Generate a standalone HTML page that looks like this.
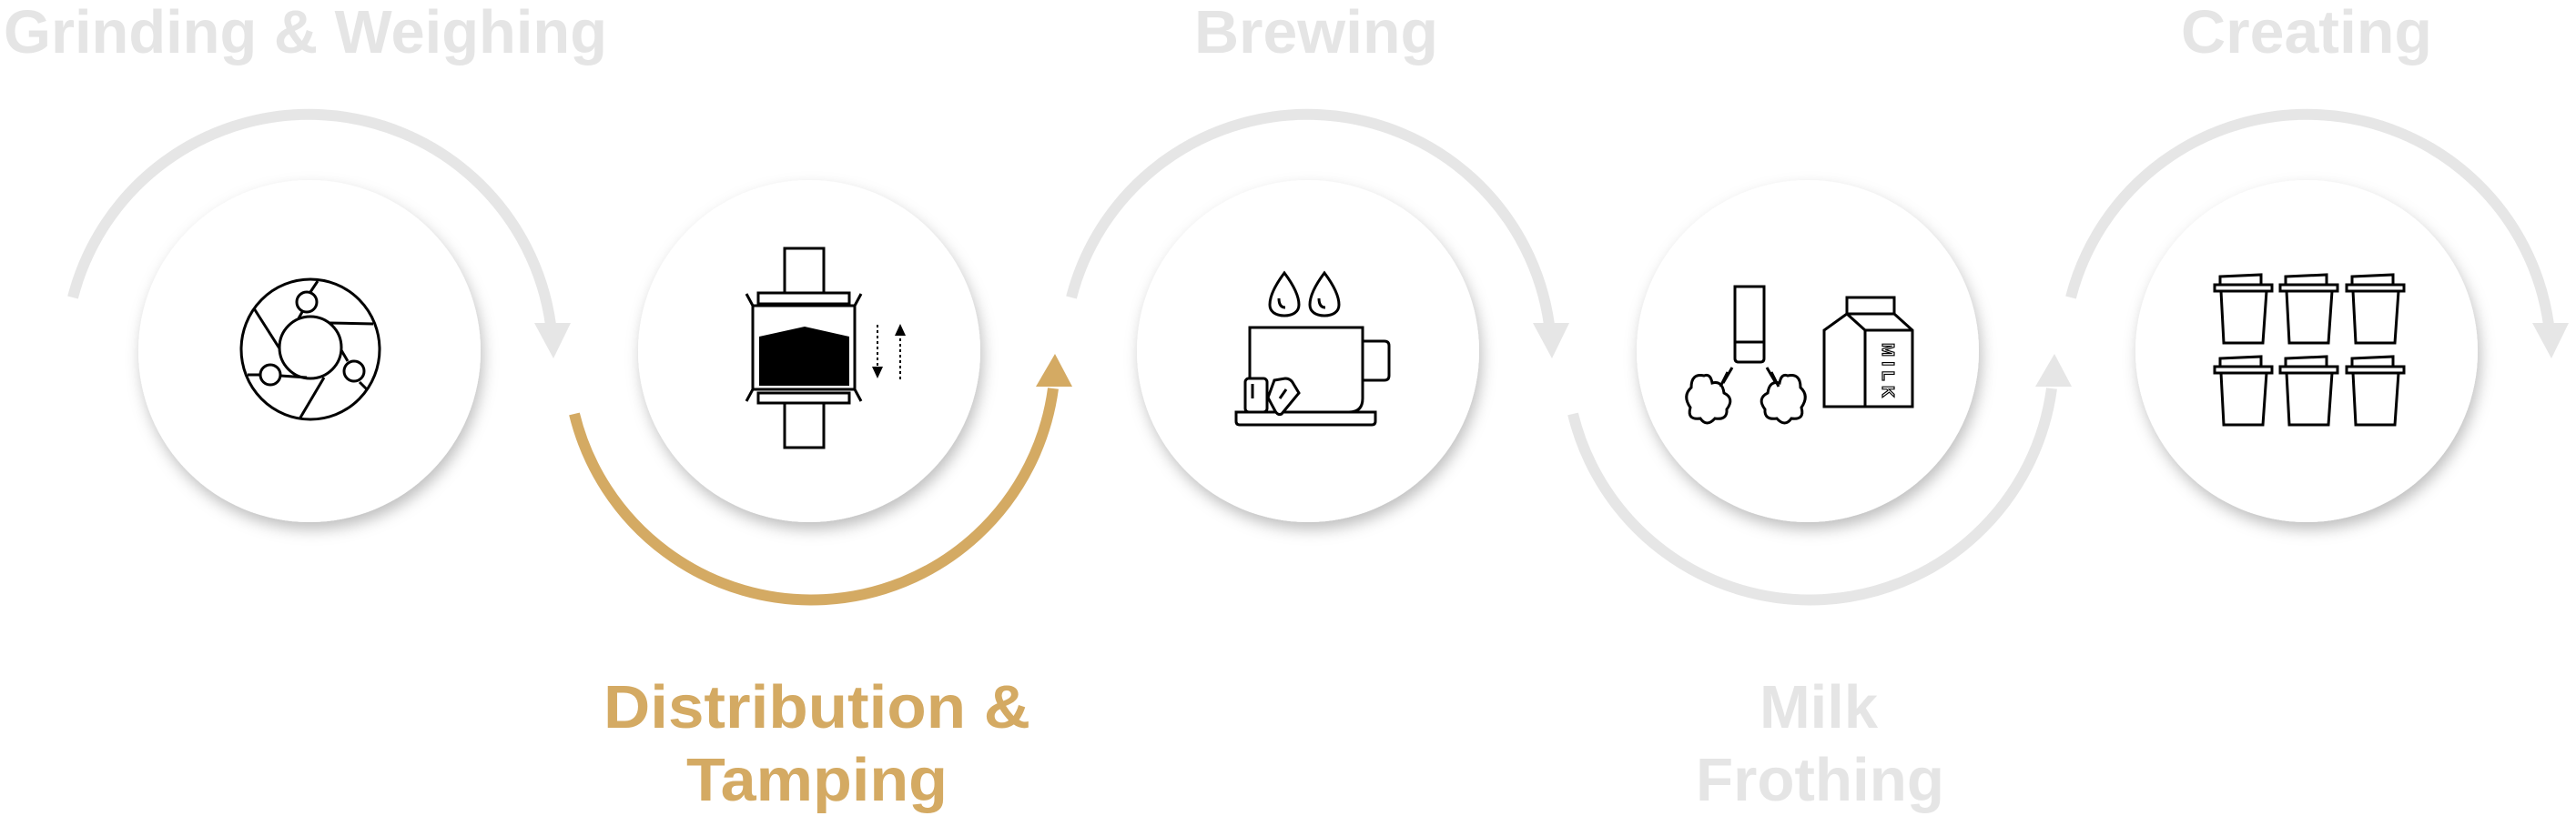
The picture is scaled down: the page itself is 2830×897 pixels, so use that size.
<!DOCTYPE html>
<html><head><meta charset="utf-8"><style>
html,body{margin:0;padding:0;background:#fff;width:2830px;height:897px;overflow:hidden}
svg{display:block}
text{font-family:"Liberation Sans",sans-serif;font-weight:bold}
</style></head><body>
<svg width="2830" height="897" viewBox="0 0 2830 897" xmlns="http://www.w3.org/2000/svg">
<defs>
<filter id="sh" x="-20%" y="-20%" width="140%" height="150%">
<feDropShadow dx="3" dy="8" stdDeviation="8" flood-color="#000" flood-opacity="0.25"/>
</filter>
<g id="cup" fill="#fff" stroke="#000" stroke-width="3">
<path d="M6,2 L51,0 L51,11 L6,11 Z"/>
<rect x="0" y="11" width="63" height="7"/>
<path d="M7,18 L57,18 L53,75 L10,75 Z"/>
</g>
</defs>

<g font-size="67" fill="#e5e5e5">
<text x="4" y="58" textLength="663" lengthAdjust="spacingAndGlyphs">Grinding &amp; Weighing</text>
<text x="1312" y="58" textLength="268" lengthAdjust="spacingAndGlyphs">Brewing</text>
<text x="2396" y="58" textLength="276" lengthAdjust="spacingAndGlyphs">Creating</text>
<text x="1933" y="800" textLength="130" lengthAdjust="spacingAndGlyphs">Milk</text>
<text x="1863" y="880" textLength="273" lengthAdjust="spacingAndGlyphs">Frothing</text>
</g>
<g font-size="67" fill="#d4aa63">
<text x="663" y="800" textLength="469" lengthAdjust="spacingAndGlyphs">Distribution &amp;</text>
<text x="754" y="880" textLength="287" lengthAdjust="spacingAndGlyphs">Tamping</text>
</g>

<g fill="none" stroke-width="12">
<path d="M80,327 A268 268 0 0 1 605,357" stroke="#e6e6e6"/>
<path d="M1177,327 A268 268 0 0 1 1702,357" stroke="#e6e6e6"/>
<path d="M2275,327 A268 268 0 0 1 2800,357" stroke="#e6e6e6"/>
<path d="M631,455 A268 268 0 0 0 1157,427" stroke="#d4aa63"/>
<path d="M1728,455 A268 268 0 0 0 2254,427" stroke="#e6e6e6"/>
</g>
<g fill="#e6e6e6">
<polygon points="587,355 627,355 608,394"/>
<polygon points="1684,355 1724,355 1705,394"/>
<polygon points="2782,355 2822,355 2803,394"/>
<polygon points="2236,425 2276,425 2257,389"/>
</g>
<polygon fill="#d4aa63" points="1138,425 1178,425 1159,389"/>

<g fill="#fff" filter="url(#sh)">
<circle cx="340" cy="386" r="188"/>
<circle cx="889" cy="386" r="188"/>
<circle cx="1437" cy="386" r="188"/>
<circle cx="1986" cy="386" r="188"/>
<circle cx="2534" cy="386" r="188"/>
</g>

<g fill="none" stroke="#000" stroke-width="3">
<ellipse cx="341" cy="384" rx="76" ry="77"/>
<circle cx="341" cy="382" r="34"/>
<circle cx="337" cy="332" r="11" fill="#fff"/>
<circle cx="297" cy="412" r="11" fill="#fff"/>
<circle cx="389" cy="408" r="11" fill="#fff"/>
<path d="M349,309 L341,321 M332,343 L328,350"/>
<path d="M279,339 L307,383"/>
<path d="M362,355 L410,356"/>
<path d="M272,412 L286,412 M308,413 L337,415"/>
<path d="M356,415 L330,459"/>
<path d="M375,385 L382,397 M395,420 L403,428"/>
</g>

<g fill="none" stroke="#000" stroke-width="3">
<rect x="862" y="273" width="43" height="49" fill="#fff"/>
<rect x="833" y="322" width="100" height="12"/>
<rect x="827" y="336" width="112" height="92"/>
<rect x="833" y="432" width="100" height="11"/>
<rect x="862" y="443" width="43" height="49"/>
<path d="M820,323 L827,336 M946,323 L939,336 M820,441 L827,428 M946,441 L939,428"/>
<path d="M964,357 L964,405" stroke-dasharray="3,3" stroke-width="2"/>
<path d="M989,417 L989,367" stroke-dasharray="3,3" stroke-width="2"/>
</g>
<polygon points="834,370 884,359 933,370 933,424 834,424" fill="#000"/>
<polygon points="958,403 970,403 964,416" fill="#000"/>
<polygon points="983,369 995,369 989,356" fill="#000"/>

<g fill="none" stroke="#000" stroke-width="3">
<path d="M1411,300 C1402,312 1395,325 1395,335 C1395,343 1402,347 1411,347 C1420,347 1427,343 1427,335 C1427,325 1420,312 1411,300 Z"/>
<path d="M1455,300 C1446,312 1439,325 1439,335 C1439,343 1446,347 1455,347 C1464,347 1471,343 1471,335 C1471,325 1464,312 1455,300 Z"/>
<path d="M1405,328 Q1405,338 1412,338 M1449,328 Q1449,338 1456,338"/>
<path d="M1373,417 L1373,360 L1497,360 L1497,438 Q1497,453 1482,453 L1397,453"/>
<path d="M1497,375 L1521,375 Q1526,375 1526,380 L1526,413 Q1526,418 1521,418 L1497,418"/>
<path d="M1358,453 L1511,453 L1511,463 Q1511,467 1507,467 L1362,467 Q1358,467 1358,463 Z"/>
<rect x="1368" y="416" width="24" height="37" rx="4" fill="#fff"/>
<path d="M1376,422 L1376,438"/>
<path d="M1400,418 L1412,416 Q1418,416 1421,422 L1427,432 L1408,455 Q1404,457 1401,452 L1393,437 Z" fill="#fff"/>
<path d="M1406,438 L1413,428"/>
</g>

<g fill="none" stroke="#000" stroke-width="3">
<path d="M1906,315 L1938,315 L1938,394 Q1938,398 1934,398 L1910,398 Q1906,398 1906,394 Z"/>
<path d="M1906,376 L1938,376"/>
<path d="M1903,404 L1893,421 M1898,409 L1890,425"/>
<path d="M1941,404 L1951,421 M1946,409 L1954,425"/>
<path d="M1872,413 Q1858,410 1858,426 Q1848,435 1857,448 Q1853,462 1868,460 Q1875,470 1884,460 Q1898,462 1897,450 Q1906,438 1894,432 Q1892,418 1881,421 Q1879,410 1872,413 Z"/>
<path d="M1964,413 Q1978,410 1978,426 Q1988,435 1979,448 Q1983,462 1968,460 Q1961,470 1952,460 Q1938,462 1939,450 Q1930,438 1942,432 Q1944,418 1955,421 Q1957,410 1964,413 Z"/>
<rect x="2029" y="327" width="52" height="18"/>
<path d="M2029,345 L2004,363 L2004,447 L2101,447 L2101,363 L2081,345 Z"/>
<path d="M2029,345 L2049,363 L2049,447 M2049,363 L2101,363"/>
</g>
<text x="0" y="0" transform="translate(2068,377) rotate(90)" font-size="18" fill="#fff" stroke="#000" stroke-width="1.2" textLength="60" lengthAdjust="spacing">MILK</text>

<use href="#cup" x="2433" y="302"/>
<use href="#cup" x="2505" y="302"/>
<use href="#cup" x="2578" y="302"/>
<use href="#cup" x="2433" y="392"/>
<use href="#cup" x="2505" y="392"/>
<use href="#cup" x="2578" y="392"/>
</svg>
</body></html>
